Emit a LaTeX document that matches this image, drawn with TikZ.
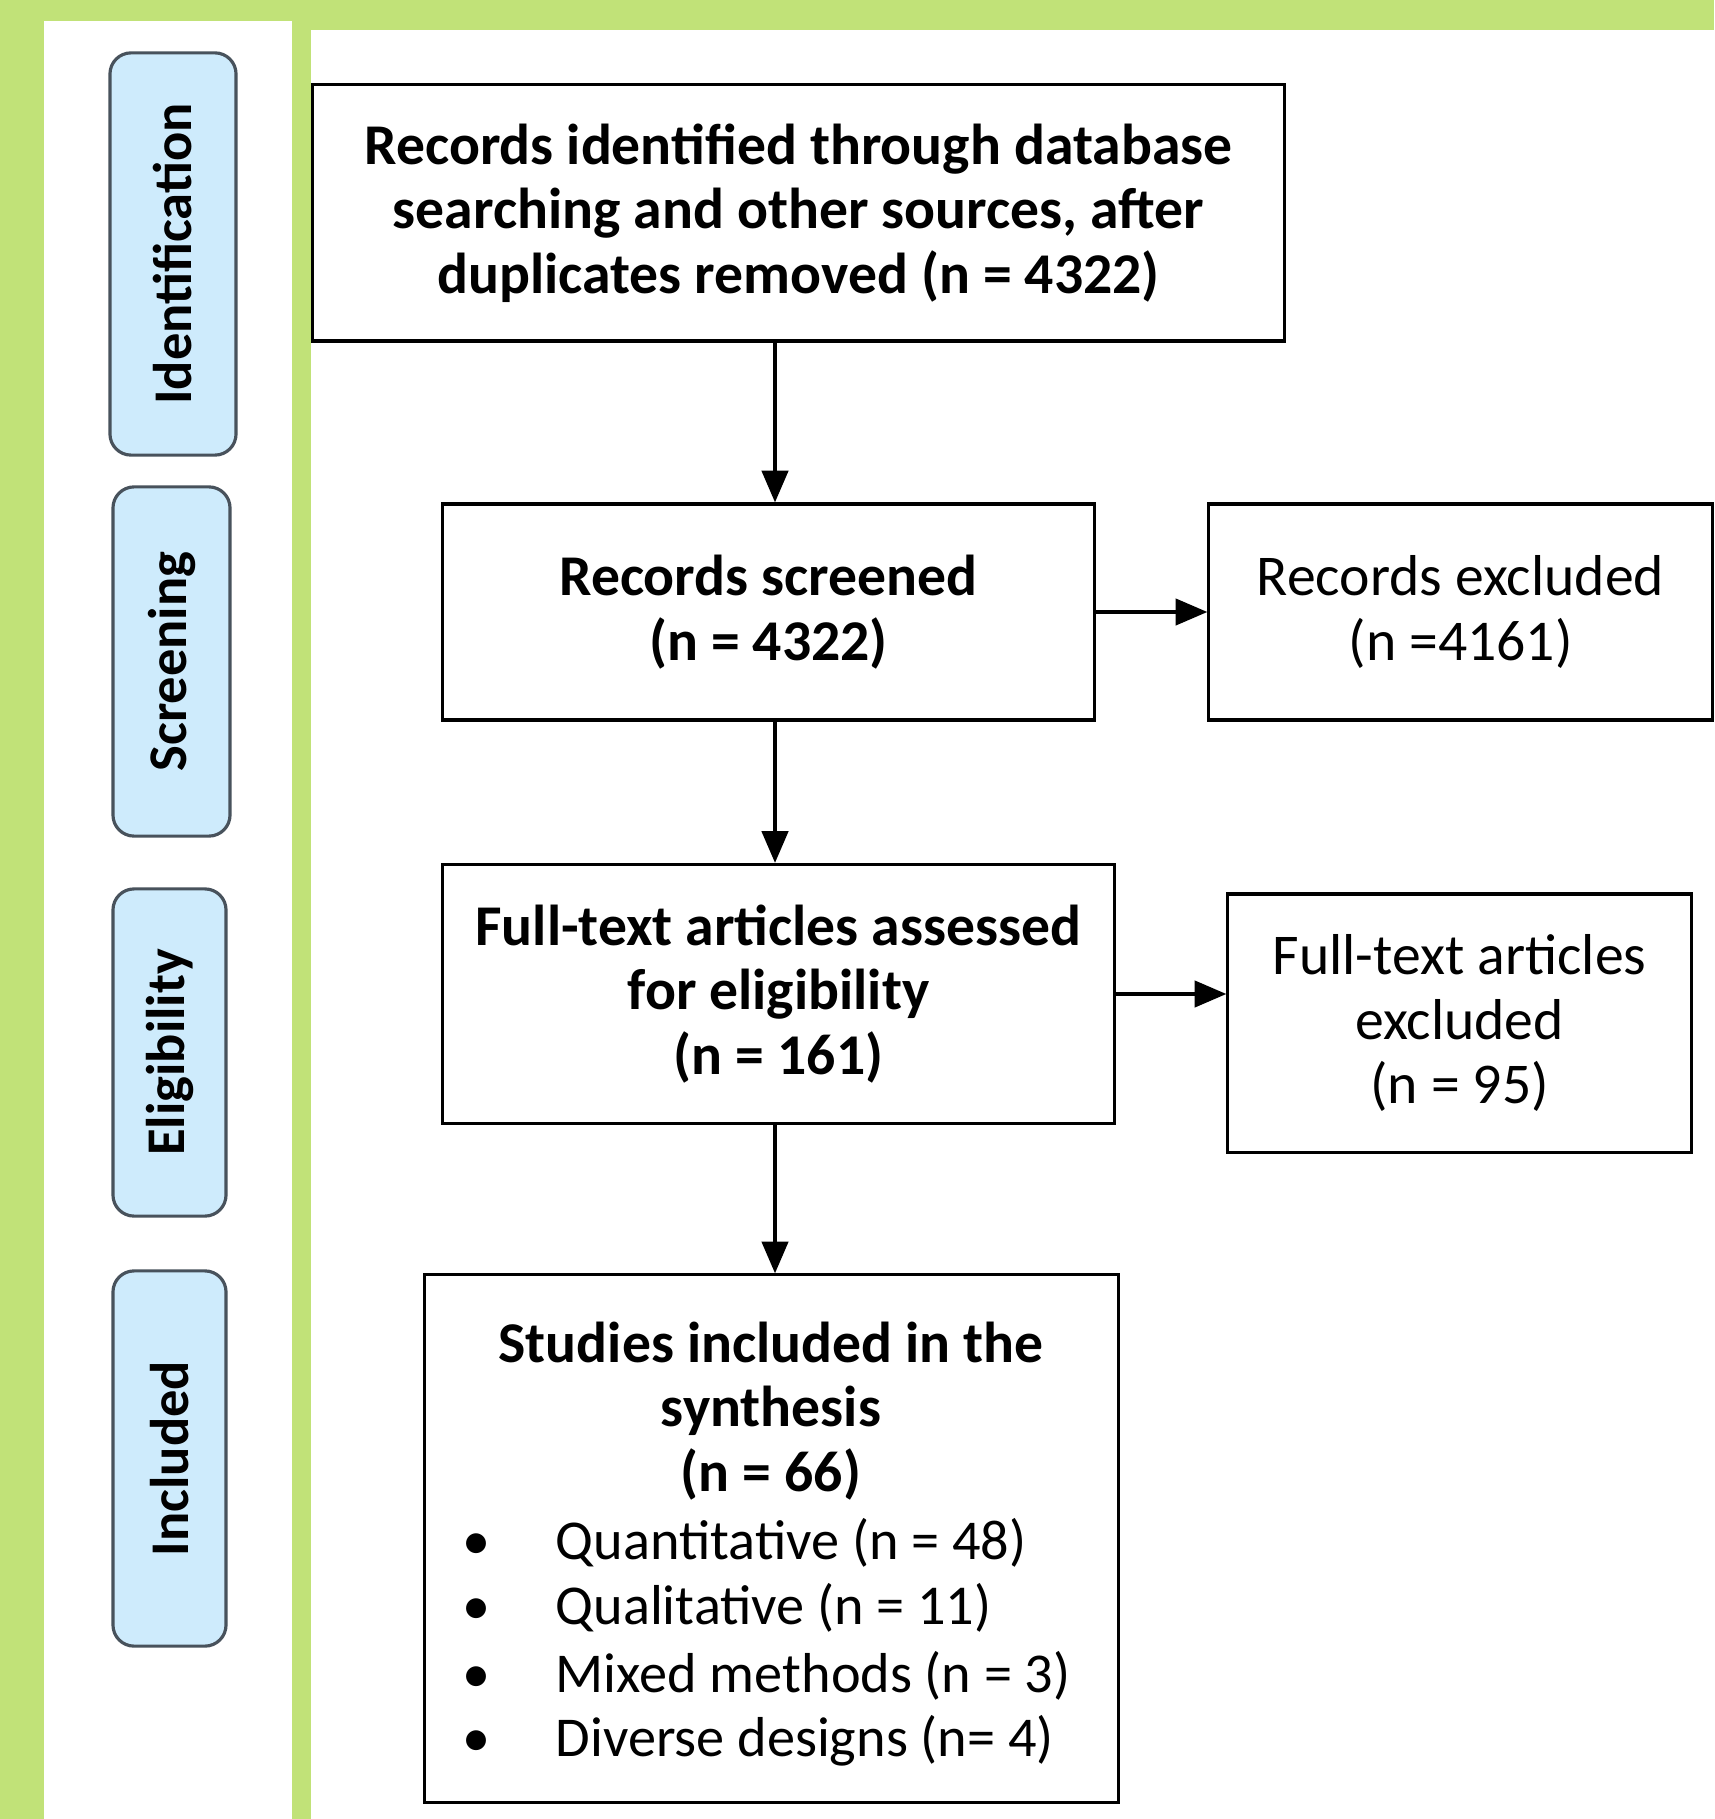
\documentclass[tikz,border=0pt]{standalone}
\usepackage{fontspec}
\setmainfont{Carlito}
\usetikzlibrary{arrows.meta}
\definecolor{panelgreen}{RGB}{193,226,120}
\definecolor{stageblue}{RGB}{206,235,252}
\definecolor{stageline}{RGB}{72,82,92}

\begin{document}
\begin{tikzpicture}[x=0.01cm, y=-0.01cm,
  box/.style={draw, line width=0.9pt, align=center, inner sep=0pt, font=\fontsize{16.4}{18.3}\selectfont},
  stage/.style={draw=stageline, fill=stageblue, line width=0.9pt, rounded corners=6pt, rotate=90, inner sep=0pt, font=\bfseries\fontsize{15.5}{17}\selectfont},
  item/.style={anchor=west, inner sep=0pt, font=\fontsize{16}{18}\selectfont},
  arr/.style={line width=0.9pt, -{Triangle[length=9pt,width=7.5pt]}}]
\useasboundingbox (0,0) rectangle (1714,1819);
\fill[panelgreen] (0,0) rectangle (1714,1819);
\fill[white] (44,21) rectangle (292,1819);
\fill[white] (311,30) rectangle (1714,1819);

\node[stage, minimum width=4.02cm, minimum height=1.26cm] (ident) at (173,254) {Identification};
\node[stage, minimum width=3.49cm, minimum height=1.17cm] (screen) at (171.5,661.5) {Screening};
\node[stage, minimum width=3.27cm, minimum height=1.13cm] (elig) at (169.5,1052.5) {Eligibility};
\node[stage, minimum width=3.75cm, minimum height=1.13cm] (incl) at (169.5,1458.5) {Included};

\node[box, minimum width=9.71cm, minimum height=2.56cm] (records) at (798.5,213) {\bfseries Records identified through database\\\bfseries searching and other sources, after\\\bfseries duplicates removed (n = 4322)};
\node[box, minimum width=6.51cm, minimum height=2.16cm] (screened) at (768.5,612) {\bfseries Records screened\\\bfseries (n = 4322)};
\node[box, minimum width=5.03cm, minimum height=2.16cm] (excluded) at (1460.5,612) {Records excluded\\(n =4161)};
\node[box, minimum width=6.71cm, minimum height=2.59cm] (fulltext) at (778.5,994) {\bfseries Full-text articles assessed\\\bfseries for eligibility\\\bfseries (n = 161)};
\node[box, minimum width=4.63cm, minimum height=2.58cm] (ftexcl) at (1459.5,1023) {Full-text articles\\excluded\\(n = 95)};
\node[box, minimum width=6.93cm, minimum height=5.27cm] (studies) at (771.5,1538.5) {};
\node[box, draw=none] (studtitle) at (771,1411) {\bfseries Studies included in the\\\bfseries synthesis\\\bfseries (n = 66)};

\node[item] (quant) at (462,1543) {\makebox[0.93cm][l]{\textbullet}Quantitative (n = 48)};
\node[item] (qual) at (462,1608) {\makebox[0.93cm][l]{\textbullet}Qualitative (n = 11)};
\node[item] (mixed) at (462,1676) {\makebox[0.93cm][l]{\textbullet}Mixed methods (n = 3)};
\node[item] (diverse) at (462,1741) {\makebox[0.93cm][l]{\textbullet}Diverse designs (n= 4)};

\coordinate (axis) at (775,0);
\draw[arr] (records.south -| axis) -- (screened.north -| axis);
\draw[arr] (screened.south -| axis) -- (fulltext.north -| axis);
\draw[arr] (fulltext.south -| axis) -- (studies.north -| axis);
\draw[arr] (screened.east) -- (excluded.west);
\draw[arr] (fulltext.east) -- (fulltext.east -| ftexcl.west);
\end{tikzpicture}
\end{document}
